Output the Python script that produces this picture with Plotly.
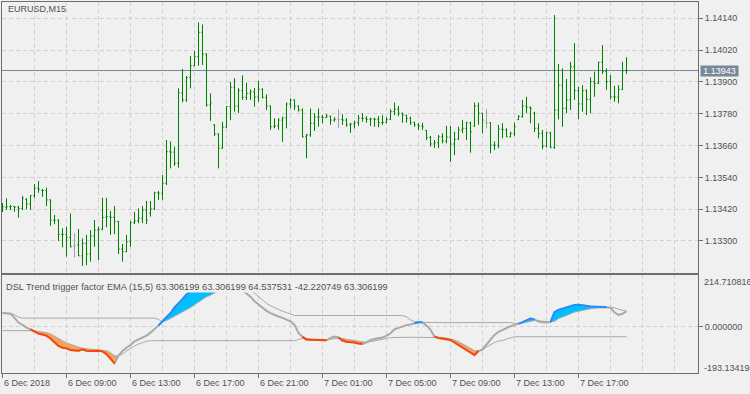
import plotly.graph_objects as go

# ------------------------------------------------------------------ data
bar_index = list(range(157))          # EURUSD M15 bars, 6 Dec 2018 05:00 .. 7 Dec 2018 18:00

open_prices = [
    1.13427, 1.13427, 1.13429, 1.13430, 1.13428, 1.13423, 1.13457, 1.13440, 1.13471, 1.13499,
    1.13492, 1.13490, 1.13455, 1.13379, 1.13378, 1.13325, 1.13324, 1.13314, 1.13281, 1.13285,
    1.13244, 1.13291, 1.13251, 1.13319, 1.13341, 1.13344, 1.13389, 1.13392, 1.13389, 1.13373,
    1.13269, 1.13260, 1.13297, 1.13369, 1.13376, 1.13386, 1.13417, 1.13405, 1.13421, 1.13482,
    1.13480, 1.13518, 1.13637, 1.13635, 1.13593, 1.13859, 1.13832, 1.13917, 1.13961, 1.13996,
    1.14087, 1.14005, 1.13813, 1.13738, 1.13704, 1.13650, 1.13729, 1.13807, 1.13880, 1.13809,
    1.13867, 1.13842, 1.13857, 1.13863, 1.13843, 1.13872, 1.13842, 1.13809, 1.13731, 1.13734,
    1.13756, 1.13764, 1.13817, 1.13832, 1.13809, 1.13794, 1.13693, 1.13700, 1.13744, 1.13767,
    1.13768, 1.13766, 1.13771, 1.13756, 1.13759, 1.13759, 1.13756, 1.13738, 1.13741, 1.13746,
    1.13763, 1.13762, 1.13759, 1.13760, 1.13759, 1.13746, 1.13747, 1.13759, 1.13788, 1.13797,
    1.13782, 1.13775, 1.13763, 1.13746, 1.13738, 1.13734, 1.13717, 1.13691, 1.13666, 1.13671,
    1.13693, 1.13677, 1.13692, 1.13666, 1.13684, 1.13719, 1.13725, 1.13746, 1.13734, 1.13809,
    1.13782, 1.13746, 1.13746, 1.13662, 1.13661, 1.13722, 1.13719, 1.13693, 1.13706, 1.13758,
    1.13769, 1.13809, 1.13804, 1.13783, 1.13725, 1.13706, 1.13658, 1.13708, 1.13653, 1.13794,
    1.13888, 1.13800, 1.13832, 1.13957, 1.13867, 1.13817, 1.13867, 1.13834, 1.13901, 1.13895,
    1.13974, 1.13939, 1.13901, 1.13844, 1.13843, 1.13872, 1.13942,
]
high_prices = [
    1.13443, 1.13461, 1.13436, 1.13432, 1.13432, 1.13470, 1.13461, 1.13473, 1.13515, 1.13526,
    1.13496, 1.13501, 1.13457, 1.13398, 1.13382, 1.13348, 1.13354, 1.13404, 1.13329, 1.13345,
    1.13310, 1.13323, 1.13341, 1.13379, 1.13354, 1.13463, 1.13463, 1.13413, 1.13432, 1.13376,
    1.13289, 1.13323, 1.13376, 1.13410, 1.13423, 1.13432, 1.13451, 1.13451, 1.13486, 1.13489,
    1.13549, 1.13681, 1.13675, 1.13656, 1.13876, 1.13949, 1.13922, 1.13998, 1.14017, 1.14125,
    1.14117, 1.14008, 1.13857, 1.13741, 1.13706, 1.13749, 1.13809, 1.13900, 1.13914, 1.13877,
    1.13925, 1.13897, 1.13872, 1.13877, 1.13904, 1.13876, 1.13853, 1.13811, 1.13763, 1.13763,
    1.13769, 1.13822, 1.13838, 1.13834, 1.13811, 1.13800, 1.13704, 1.13800, 1.13782, 1.13800,
    1.13775, 1.13779, 1.13772, 1.13767, 1.13797, 1.13778, 1.13763, 1.13746, 1.13754, 1.13775,
    1.13782, 1.13771, 1.13765, 1.13765, 1.13771, 1.13775, 1.13767, 1.13797, 1.13822, 1.13809,
    1.13784, 1.13776, 1.13769, 1.13750, 1.13744, 1.13746, 1.13719, 1.13696, 1.13681, 1.13700,
    1.13706, 1.13734, 1.13734, 1.13712, 1.13731, 1.13756, 1.13750, 1.13750, 1.13822, 1.13822,
    1.13784, 1.13797, 1.13748, 1.13675, 1.13738, 1.13744, 1.13725, 1.13712, 1.13746, 1.13775,
    1.13832, 1.13844, 1.13807, 1.13787, 1.13744, 1.13719, 1.13712, 1.13712, 1.14152, 1.13968,
    1.13951, 1.13911, 1.13976, 1.14046, 1.13882, 1.13888, 1.13872, 1.13917, 1.13939, 1.13976,
    1.14039, 1.13951, 1.13926, 1.13885, 1.13888, 1.13976, 1.13993,
]
low_prices = [
    1.13409, 1.13417, 1.13417, 1.13410, 1.13388, 1.13417, 1.13420, 1.13417, 1.13463, 1.13482,
    1.13467, 1.13432, 1.13357, 1.13363, 1.13300, 1.13276, 1.13241, 1.13276, 1.13237, 1.13243,
    1.13206, 1.13209, 1.13222, 1.13278, 1.13228, 1.13341, 1.13352, 1.13323, 1.13326, 1.13251,
    1.13222, 1.13258, 1.13278, 1.13364, 1.13367, 1.13367, 1.13364, 1.13392, 1.13417, 1.13455,
    1.13455, 1.13511, 1.13574, 1.13583, 1.13576, 1.13823, 1.13825, 1.13876, 1.13960, 1.13961,
    1.13964, 1.13807, 1.13753, 1.13696, 1.13574, 1.13648, 1.13727, 1.13756, 1.13788, 1.13783,
    1.13832, 1.13832, 1.13832, 1.13807, 1.13825, 1.13838, 1.13794, 1.13719, 1.13725, 1.13719,
    1.13674, 1.13725, 1.13800, 1.13794, 1.13788, 1.13691, 1.13612, 1.13693, 1.13715, 1.13731,
    1.13744, 1.13763, 1.13738, 1.13750, 1.13725, 1.13738, 1.13731, 1.13708, 1.13725, 1.13734,
    1.13750, 1.13746, 1.13734, 1.13731, 1.13729, 1.13738, 1.13744, 1.13756, 1.13775, 1.13771,
    1.13746, 1.13746, 1.13738, 1.13731, 1.13719, 1.13719, 1.13681, 1.13656, 1.13650, 1.13650,
    1.13668, 1.13668, 1.13599, 1.13624, 1.13681, 1.13707, 1.13681, 1.13633, 1.13731, 1.13738,
    1.13706, 1.13725, 1.13631, 1.13643, 1.13650, 1.13687, 1.13692, 1.13691, 1.13696, 1.13756,
    1.13765, 1.13782, 1.13744, 1.13711, 1.13687, 1.13646, 1.13653, 1.13650, 1.13648, 1.13759,
    1.13731, 1.13782, 1.13794, 1.13832, 1.13759, 1.13788, 1.13775, 1.13782, 1.13844, 1.13892,
    1.13930, 1.13870, 1.13834, 1.13825, 1.13819, 1.13870, 1.13930,
]
close_prices = [
    1.13429, 1.13429, 1.13430, 1.13428, 1.13423, 1.13461, 1.13440, 1.13471, 1.13499, 1.13495,
    1.13490, 1.13455, 1.13379, 1.13378, 1.13325, 1.13324, 1.13314, 1.13278, 1.13281, 1.13244,
    1.13291, 1.13251, 1.13319, 1.13341, 1.13344, 1.13389, 1.13392, 1.13389, 1.13373, 1.13269,
    1.13260, 1.13297, 1.13369, 1.13376, 1.13386, 1.13417, 1.13379, 1.13421, 1.13482, 1.13480,
    1.13518, 1.13637, 1.13635, 1.13593, 1.13859, 1.13832, 1.13917, 1.13961, 1.13995, 1.14087,
    1.14005, 1.13813, 1.13821, 1.13704, 1.13650, 1.13729, 1.13807, 1.13880, 1.13809, 1.13867,
    1.13842, 1.13857, 1.13863, 1.13843, 1.13872, 1.13842, 1.13809, 1.13731, 1.13734, 1.13756,
    1.13764, 1.13817, 1.13832, 1.13809, 1.13794, 1.13693, 1.13700, 1.13744, 1.13767, 1.13768,
    1.13766, 1.13771, 1.13756, 1.13759, 1.13759, 1.13756, 1.13738, 1.13741, 1.13746, 1.13763,
    1.13762, 1.13759, 1.13760, 1.13759, 1.13746, 1.13747, 1.13759, 1.13788, 1.13797, 1.13782,
    1.13775, 1.13763, 1.13746, 1.13738, 1.13734, 1.13731, 1.13691, 1.13666, 1.13671, 1.13693,
    1.13677, 1.13692, 1.13666, 1.13684, 1.13719, 1.13725, 1.13746, 1.13712, 1.13809, 1.13782,
    1.13756, 1.13746, 1.13662, 1.13661, 1.13722, 1.13720, 1.13693, 1.13706, 1.13731, 1.13769,
    1.13809, 1.13804, 1.13800, 1.13725, 1.13706, 1.13658, 1.13708, 1.13653, 1.13794, 1.13888,
    1.13800, 1.13832, 1.13957, 1.13867, 1.13817, 1.13867, 1.13834, 1.13901, 1.13895, 1.13974,
    1.13939, 1.13901, 1.13844, 1.13843, 1.13872, 1.13942, 1.13943,
]
doji_bars = [18, 84, 121]
last_price = 1.13943

dsl_value = [
    56.1, 55.3, 53.2, 36.4, 16.7, 7.1, -4.2, -11.7, -22.2, -29.3,
    -32.7, -37.7, -49.4, -67.0, -80.8, -87.9, -90.4, -97.5, -100.5, -100.5,
    -94.6, -100.5, -101.7, -100.5, -100.5, -103.0, -114.3, -133.1, -153.2, -120.6,
    -101.7, -87.9, -76.6, -61.1, -52.8, -43.1, -37.7, -25.1, -11.7, 5.0,
    20.9, 40.6, 55.3, 79.6, 95.0, 113.9, 134.0, 145.3, 162.0, 178.8,
    190.0, 197.0, 200.0, 198.0, 193.0, 187.0, 181.0, 174.6, 168.3, 159.9,
    151.6, 139.0, 124.4, 105.5, 90.9, 77.0, 65.7, 56.1, 47.7, 41.9,
    36.4, 29.3, 21.8, 7.1, -26.4, -43.1, -53.6, -54.8, -55.7, -56.9,
    -58.6, -56.9, -47.3, -41.0, -45.2, -57.8, -62.8, -64.1, -66.2, -70.3,
    -72.4, -65.3, -55.7, -51.5, -48.6, -45.2, -38.9, -27.6, -11.7, -5.4,
    0.8, 5.9, 9.2, 14.2, 18.4, 17.6, 5.0, -13.8, -41.0, -47.3,
    -49.4, -52.8, -55.7, -66.2, -76.6, -87.9, -99.7, -108.9, -118.5, -101.7,
    -95.5, -74.5, -55.7, -34.8, -22.2, -13.8, -6.7, 1.7, 7.1, 11.3,
    17.6, 25.1, 33.5, 30.1, 20.9, 18.4, 16.7, 18.4, 59.5, 69.9,
    75.4, 81.2, 86.7, 89.6, 90.9, 87.9, 84.6, 83.3, 82.5, 81.6,
    81.2, 81.2, 78.3, 59.5, 49.0, 53.2, 63.306199,
]
dsl_level_up = [
    56.1, 55.8, 54.8, 49.0, 39.4, 35.2, 35.2, 35.2, 35.2, 35.2,
    35.2, 35.2, 35.2, 35.2, 35.2, 35.2, 35.2, 35.2, 35.2, 35.2,
    35.2, 35.2, 35.2, 35.2, 35.2, 35.2, 35.2, 35.2, 35.2, 35.2,
    35.2, 35.2, 35.2, 35.2, 35.2, 35.2, 35.2, 35.2, 35.2, 30.1,
    18.4, 25.1, 34.3, 42.7, 51.9, 59.5, 69.9, 79.1, 90.9, 101.3,
    111.8, 124.4, 130.6, 141.1, 149.5, 155.8, 159.9, 162.0, 162.0, 161.2,
    159.1, 155.8, 150.7, 139.0, 124.4, 109.7, 97.1, 86.7, 78.3, 69.9,
    63.6, 58.6, 53.2, 46.1, 46.1, 46.1, 46.1, 46.1, 46.1, 46.1,
    46.1, 46.1, 46.1, 46.1, 46.1, 46.1, 46.1, 46.1, 46.1, 46.1,
    46.1, 46.1, 46.1, 46.1, 46.1, 46.1, 46.1, 46.1, 46.1, 46.1,
    46.1, 40.6, 28.1, 20.9, 17.5, 17.5, 16.7, 16.7, 16.7, 16.7,
    16.7, 16.7, 16.7, 16.7, 16.7, 16.7, 16.7, 16.7, 16.7, 16.7,
    16.7, 16.7, 16.7, 16.7, 16.7, 16.7, 16.7, 16.7, 13.4, 13.0,
    14.7, 18.0, 23.0, 25.5, 23.9, 22.2, 20.5, 19.7, 21.8, 33.5,
    39.4, 44.8, 53.2, 60.3, 64.5, 68.7, 72.0, 74.1, 76.2, 78.3,
    79.1, 80.4, 80.4, 78.3, 72.0, 67.8, 64.537531,
]
dsl_level_dn = [
    -16.7, -16.7, -16.7, -16.7, -16.7, -16.7, -15.9, -15.1, -17.2, -20.1,
    -22.2, -25.1, -30.6, -38.9, -48.6, -58.6, -68.2, -74.5, -80.8, -86.2,
    -90.4, -92.1, -93.4, -94.6, -96.3, -97.6, -100.5, -108.9, -121.4, -122.7,
    -114.3, -101.7, -90.4, -80.8, -72.4, -65.3, -61.1, -58.6, -58.6, -58.6,
    -58.6, -58.6, -58.6, -58.6, -58.6, -58.6, -58.6, -58.6, -58.6, -58.6,
    -58.6, -58.6, -58.6, -58.6, -58.6, -58.6, -58.6, -58.6, -58.6, -58.6,
    -58.6, -58.6, -58.6, -58.6, -58.6, -58.6, -58.6, -58.6, -58.6, -58.6,
    -58.6, -58.6, -58.6, -58.6, -53.6, -49.4, -50.2, -51.5, -52.8, -53.6,
    -54.4, -54.8, -52.8, -49.0, -47.7, -49.8, -52.8, -55.7, -59.9, -63.2,
    -66.2, -66.2, -62.8, -59.0, -55.7, -52.3, -47.7, -46.1, -45.2, -44.4,
    -44.4, -44.4, -44.4, -44.4, -44.4, -44.4, -44.4, -44.4, -43.1, -44.4,
    -46.1, -48.2, -50.7, -55.7, -62.8, -71.2, -80.8, -90.4, -99.7, -100.5,
    -95.5, -85.0, -75.4, -66.2, -59.9, -57.8, -52.0, -46.0, -42.2, -42.2,
    -42.2, -42.2, -42.2, -42.2, -42.2, -42.2, -42.2, -42.2, -42.2, -42.2,
    -42.2, -42.2, -42.2, -42.2, -42.2, -42.2, -42.2, -42.2, -42.2, -42.2,
    -42.2, -42.2, -42.2, -42.2, -42.2, -42.2, -42.220749,
]

price_tick_values = [1.13300, 1.13420, 1.13540, 1.13660, 1.13780, 1.13900, 1.14020, 1.14140]
price_tick_labels = ["1.13300", "1.13420", "1.13540", "1.13660", "1.13780", "1.13900", "1.14020", "1.14140"]
grid_bars = [0, 8, 16, 24, 32, 40, 48, 56, 64, 72, 80, 88, 96, 104, 112, 120, 128, 136, 144, 152, 160, 168]
time_tick_bars = [0, 16, 32, 48, 64, 80, 96, 112, 128, 144]
time_tick_labels = ["6 Dec 2018", "6 Dec 09:00", "6 Dec 13:00", "6 Dec 17:00", "6 Dec 21:00",
                    "7 Dec 01:00", "7 Dec 05:00", "7 Dec 09:00", "7 Dec 13:00", "7 Dec 17:00"]
ind_max = 214.710816
ind_min = -193.134195
ind_tick_labels = ["214.710816", "0.000000", "-193.134195"]
symbol_title = "EURUSD,M15"
ind_title = "DSL Trend trigger factor EMA (15,5) 63.306199 63.306199 64.537531 -42.220749 63.306199"

# ------------------------------------------------------------------ style
BG = "#F0F0F0"
GRID = "#D2D2D2"
FRAME = "#6E6E6E"
TXT = "#505050"
BAR = "#008000"
DOJI = "#A0A0A0"
LVL = "#A9A9A9"
FONT = "Liberation Sans"
X_RANGE = [-0.125, 173.875]

fig = go.Figure()

# price bars
normal = [k for k in bar_index if k not in doji_bars]
fig.add_trace(go.Ohlc(
    x=normal,
    open=[open_prices[k] for k in normal], high=[high_prices[k] for k in normal],
    low=[low_prices[k] for k in normal], close=[close_prices[k] for k in normal],
    increasing=dict(line=dict(color=BAR, width=1)),
    decreasing=dict(line=dict(color=BAR, width=1)),
    tickwidth=0.3, xaxis="x", yaxis="y", hoverinfo="skip", showlegend=False))

dx, dy = [], []
for k in doji_bars:
    dx += [k, k, None, k - 0.3, k, None, k, k + 0.3, None]
    dy += [low_prices[k], high_prices[k], None, open_prices[k], open_prices[k], None,
           close_prices[k], close_prices[k], None]
fig.add_trace(go.Scatter(x=dx, y=dy, mode="lines", line=dict(color=DOJI, width=1),
                         xaxis="x", yaxis="y", hoverinfo="skip", showlegend=False))

# indicator fills
up_top = [max(v, u) for v, u in zip(dsl_value, dsl_level_up)]
dn_bot = [min(v, d) for v, d in zip(dsl_value, dsl_level_dn)]
common = dict(xaxis="x2", yaxis="y2", hoverinfo="skip", showlegend=False, mode="lines")
fig.add_trace(go.Scatter(x=bar_index, y=dsl_level_up, line=dict(width=0, color=LVL), **common))
fig.add_trace(go.Scatter(x=bar_index, y=up_top, line=dict(width=0, color="#00BFFF"),
                         fill="tonexty", fillcolor="#00BFFF", **common))
fig.add_trace(go.Scatter(x=bar_index, y=dsl_level_dn, line=dict(width=0, color=LVL), **common))
fig.add_trace(go.Scatter(x=bar_index, y=dn_bot, line=dict(width=0, color="#F4A460"),
                         fill="tonexty", fillcolor="#F4A460", **common))

# level lines
fig.add_trace(go.Scatter(x=bar_index, y=dsl_level_up, line=dict(width=1, color=LVL), **common))
fig.add_trace(go.Scatter(x=bar_index, y=dsl_level_dn, line=dict(width=1, color=LVL), **common))
# main value line
fig.add_trace(go.Scatter(x=bar_index, y=dsl_value, line=dict(width=2, color=LVL), **common))

# coloured segments
n = len(bar_index)
seg_up = [None] * n
seg_dn = [None] * n
for i in range(n):
    if dsl_value[i] > dsl_level_up[i]:
        seg_up[i] = dsl_value[i]
        if i > 0:
            seg_up[i - 1] = dsl_value[i - 1]
    if dsl_value[i] < dsl_level_dn[i]:
        seg_dn[i] = dsl_value[i]
        if i > 0:
            seg_dn[i - 1] = dsl_value[i - 1]
fig.add_trace(go.Scatter(x=bar_index, y=seg_up, line=dict(width=2, color="#1E90FF"),
                         connectgaps=False, **common))
fig.add_trace(go.Scatter(x=bar_index, y=seg_dn, line=dict(width=2, color="#FF4500"),
                         connectgaps=False, **common))

# ------------------------------------------------------------------ layout
axis_common = dict(showline=True, mirror=True, linecolor=FRAME, linewidth=1, zeroline=False,
                   gridcolor=GRID, griddash="4px,3px", gridwidth=1, fixedrange=True)

minor_bars = [k for k in grid_bars if k not in time_tick_bars]

annotations = [
    dict(text=symbol_title, xref="x domain", yref="y domain", x=0, y=1, xanchor="left",
         yanchor="top", xshift=4, yshift=0, showarrow=False, font=dict(color=TXT, size=9, family=FONT)),
    dict(text=ind_title, xref="x2 domain", yref="y2 domain", x=0, y=1, xanchor="left",
         yanchor="top", xshift=3, yshift=-1, height=15, valign="bottom", borderpad=0,
         bgcolor=BG, showarrow=False, font=dict(color=TXT, size=9.25, family=FONT)),
    dict(text=ind_tick_labels[0], xref="x2 domain", yref="y2 domain", x=1, y=1, xanchor="left",
         yanchor="top", xshift=4, yshift=0, showarrow=False, font=dict(color=TXT, size=9, family=FONT)),
    dict(text=ind_tick_labels[2], xref="x2 domain", yref="y2 domain", x=1, y=0, xanchor="left",
         yanchor="bottom", xshift=4, yshift=-2, showarrow=False, font=dict(color=TXT, size=9, family=FONT)),
    dict(text=f"{last_price:.5f}", xref="x domain", yref="y", x=1, y=last_price, xanchor="left",
         yanchor="middle", xshift=2, width=37, height=10, borderpad=0, bgcolor="#778899",
         showarrow=False, font=dict(color="#FFFFFF", size=9, family=FONT)),
]
for k, lab in zip(time_tick_bars, time_tick_labels):
    annotations.append(dict(text=lab, xref="x2", yref="y2 domain", x=k, y=0, xanchor="left",
                            yanchor="top", xshift=-1, yshift=-3, showarrow=False,
                            font=dict(color=TXT, size=9, family=FONT)))

fig.update_layout(
    width=750, height=394,
    margin=dict(l=2, r=52, t=2, b=21),
    paper_bgcolor=BG, plot_bgcolor=BG,
    font=dict(family=FONT, size=9, color=TXT),
    showlegend=False, hovermode=False,
    xaxis=dict(domain=[0, 1], anchor="y", range=X_RANGE, tickvals=grid_bars, showticklabels=False,
               ticks="", showgrid=True, rangeslider=dict(visible=False), **axis_common),
    yaxis=dict(domain=[0.26954, 1], anchor="x", side="right", range=[1.131792, 1.142015],
               tickvals=price_tick_values, ticktext=price_tick_labels, ticks="outside", ticklen=4,
               tickcolor=FRAME, showgrid=True, tickfont=dict(color=TXT, size=9, family=FONT),
               **axis_common),
    xaxis2=dict(domain=[0, 1], anchor="y2", range=X_RANGE, tickvals=time_tick_bars,
                showticklabels=False, ticks="outside", ticklen=4, tickcolor=FRAME, showgrid=True,
                minor=dict(tickvals=minor_bars, showgrid=True, gridcolor=GRID, griddash="4px,3px",
                           ticks=""),
                **axis_common),
    yaxis2=dict(domain=[0, 0.26415], anchor="x2", side="right", range=[ind_min, ind_max],
                tickvals=[0], ticktext=[ind_tick_labels[1]], ticks="outside", ticklen=4,
                tickcolor=FRAME, showgrid=True, tickfont=dict(color=TXT, size=9, family=FONT),
                **axis_common),
    annotations=annotations,
    shapes=[dict(type="line", xref="x domain", yref="y", x0=0, x1=1, y0=last_price, y1=last_price,
                 line=dict(color="#778899", width=1), layer="below")],
)

fig.write_html("out.html", config=dict(displayModeBar=False),
               post_script="document.body.style.margin='0px';document.body.style.background='#F0F0F0';")
